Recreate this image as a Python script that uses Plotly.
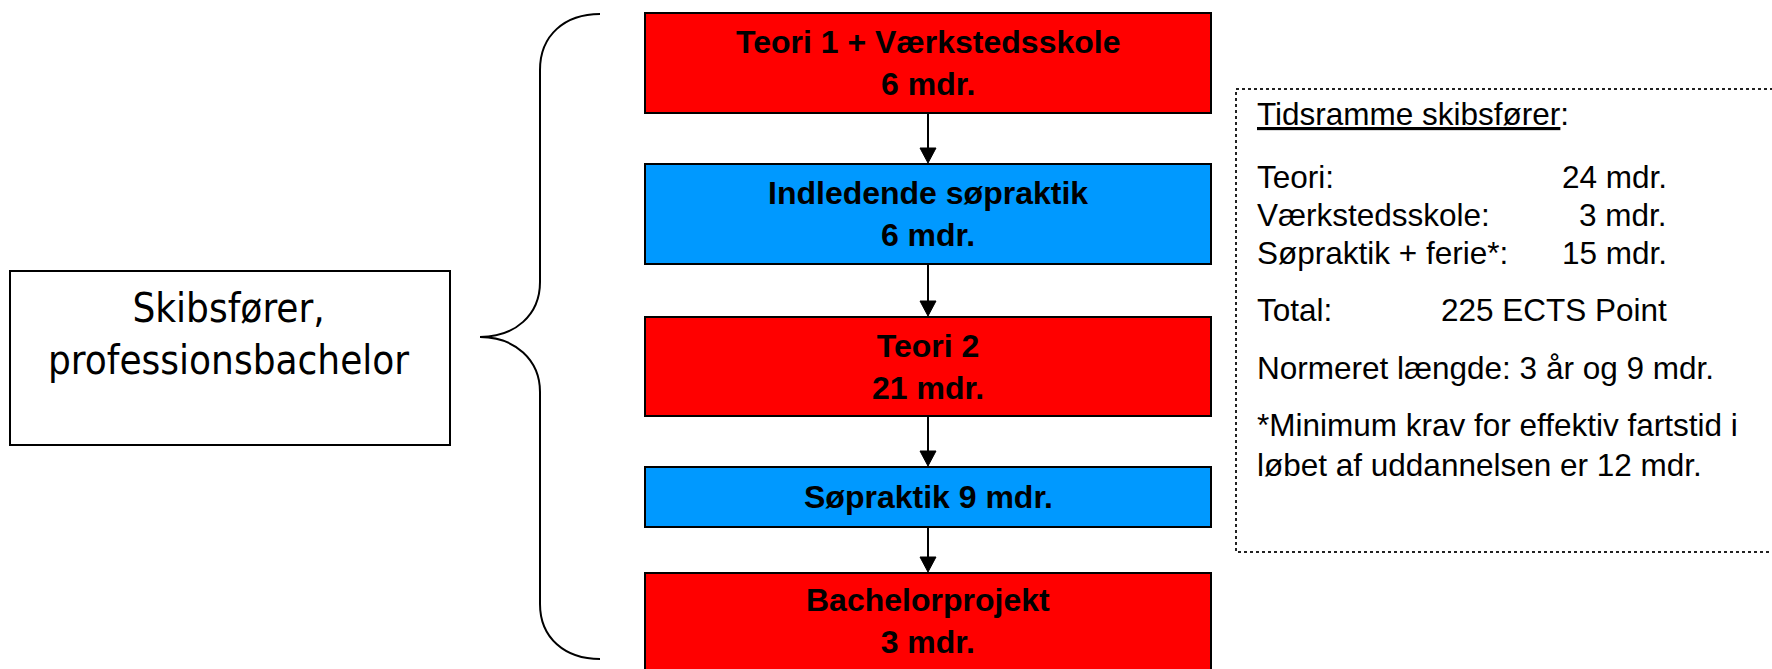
import plotly.graph_objects as go

# ---------------- data ----------------
program_title = ["Skibsfører,", "professionsbachelor"]
stage_names = ["Teori 1 + Værkstedsskole", "Indledende søpraktik", "Teori 2", "Søpraktik", "Bachelorprojekt"]
stage_months = [6, 6, 21, 9, 3]
stage_kind = ["teori", "praktik", "teori", "praktik", "teori"]
stage_one_line = [False, False, False, True, False]

summary_title = "Tidsramme skibsfører"
summary_labels = ["Teori:", "Værkstedsskole:", "Søpraktik + ferie*:"]
summary_months = [24, 3, 15]
total_ects = 225
norm_length = "3 år og 9 mdr."
footnote_lines = ["*Minimum krav for effektiv fartstid i", "løbet af uddannelsen er 12 mdr."]

# ---------------- layout geometry (pixels) ----------------
W, H = 1772, 669
kind_color = {"teori": "#FF0000", "praktik": "#0099FF"}
box_x0, box_x1 = 645, 1211
box_top = [13, 164, 317, 467, 573]
box_bot = [113, 264, 416, 527, 690]
cx = (box_x0 + box_x1) / 2

shapes = []
annotations = []

# left title box
shapes.append(dict(type="rect", x0=10, x1=450, y0=271, y1=445,
                   line=dict(color="black", width=2), fillcolor="white"))
annotations.append(dict(x=228, y=334, text="<br>".join(program_title), showarrow=False,
                        font=dict(family="DejaVu Sans Condensed, Liberation Sans", size=40, color="black"),
                        xanchor="center", yanchor="middle", align="center"))

# brace
brace = ("M 600 14 C 565 14 540 35 540 70 L 540 282 "
         "C 540 315 515 337 480 337 "
         "C 515 337 540 360 540 392 L 540 604 "
         "C 540 638 565 659 600 659")
shapes.append(dict(type="path", path=brace, line=dict(color="black", width=2)))

# stage boxes
for i, (name, m, k, one) in enumerate(zip(stage_names, stage_months, stage_kind, stage_one_line)):
    shapes.append(dict(type="rect", x0=box_x0, x1=box_x1, y0=box_top[i], y1=box_bot[i],
                       line=dict(color="black", width=2), fillcolor=kind_color[k]))
    txt = f"{name} {m} mdr." if one else f"{name}<br>{m} mdr."
    yc = (box_top[i] + box_bot[i]) / 2 if i < 4 else 621
    annotations.append(dict(x=cx, y=yc, text=f"<b>{txt}</b>", showarrow=False,
                            font=dict(family="Liberation Sans", size=32, color="black"),
                            xanchor="center", yanchor="middle", align="center"))

# arrows between boxes
for i in range(len(stage_names) - 1):
    y0 = box_bot[i] + 1
    y1 = box_top[i + 1] - 1
    shapes.append(dict(type="line", x0=cx, x1=cx, y0=y0, y1=y1 - 12,
                       line=dict(color="black", width=2)))
    shapes.append(dict(type="path",
                       path=f"M {cx-8} {y1-15} L {cx+8} {y1-15} L {cx} {y1} Z",
                       fillcolor="black", line=dict(color="black", width=1)))

# dotted summary panel
shapes.append(dict(type="rect", x0=1236, x1=1790, y0=89, y1=552,
                   line=dict(color="#222222", width=2, dash="dot"), fillcolor="rgba(0,0,0,0)"))

fs = 31.5
ff = "Liberation Sans"
tx = 1255
rx = 1669

def txt(x, y, s, anchor="left"):
    annotations.append(dict(x=x, y=y, text=s, showarrow=False,
                            font=dict(family=ff, size=fs, color="black"),
                            xanchor=anchor, yanchor="middle", align=anchor))

txt(tx, 114, f"<u>{summary_title}</u>:")
rows_y = [177, 215, 253]
for lab, m, y in zip(summary_labels, summary_months, rows_y):
    txt(tx, y, lab)
    txt(rx, y, f"{m} mdr.", "right")
txt(tx, 310, "Total:")
txt(rx, 310, f"{total_ects} ECTS Point", "right")
txt(tx, 368, f"Normeret længde: {norm_length}")
txt(tx, 425, footnote_lines[0])
txt(tx, 465, footnote_lines[1])

fig = go.Figure()
fig.update_layout(
    width=W, height=H,
    margin=dict(l=0, r=0, t=0, b=0),
    paper_bgcolor="white", plot_bgcolor="white",
    xaxis=dict(range=[0, W], visible=False, fixedrange=True),
    yaxis=dict(range=[H, 0], visible=False, fixedrange=True),
    shapes=shapes, annotations=annotations, showlegend=False,
)
fig.write_html("out.html", config={"displayModeBar": False},
               post_script="document.body.style.margin='0';document.body.style.overflow='hidden';")
